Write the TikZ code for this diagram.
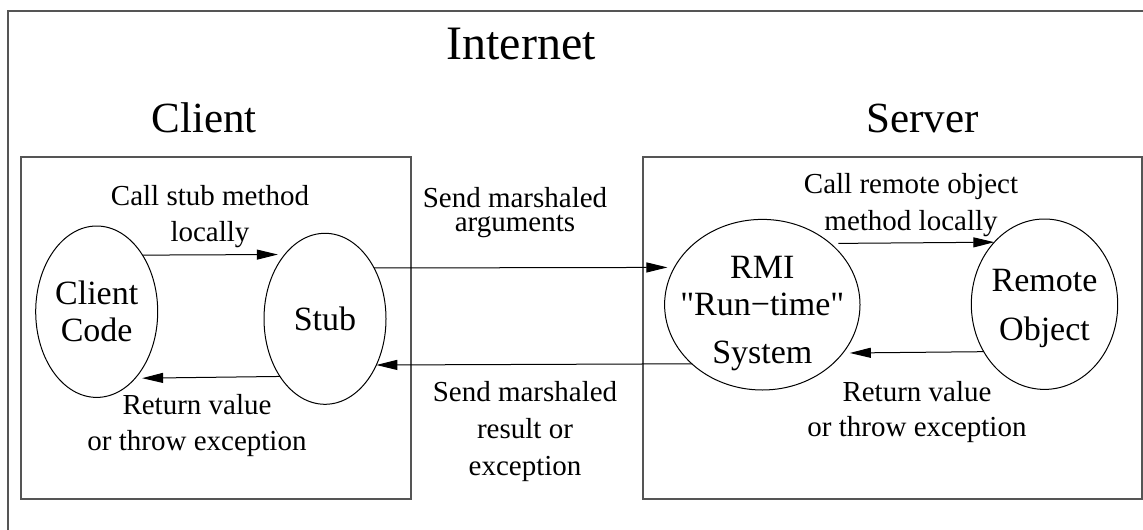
\documentclass[tikz,border=0pt]{standalone}
\usepackage{fontspec}
\setmainfont{Liberation Serif}
\usetikzlibrary{arrows.meta,shapes.geometric}
\definecolor{framegray}{RGB}{85,85,85}
\begin{document}
\begin{tikzpicture}[x=0.5pt,y=-0.5pt,
    obj/.style={draw, ellipse, line width=0.5pt, inner sep=0pt, outer sep=0pt},
    objtext/.style={align=center, font=\fontsize{17}{18.35}\selectfont},
    lbl/.style={align=center, anchor=base, inner sep=0pt, font=\fontsize{14.5}{18}\selectfont},
    title/.style={anchor=base, inner sep=0pt},
    msg/.style={-{Triangle[length=10.5pt,width=5pt]}, line width=0.5pt, shorten >=3.5pt},
    box/.style={draw=framegray, line width=1pt}]
        \useasboundingbox (0,0) rectangle (1143,529);
        \clip (0,0) rectangle (1143,529);
        \draw [framegray, line width=0.75pt] (8,11) rectangle (1180,560);
        \node [title, font=\fontsize{24}{28}\selectfont] (internet) at (521,60) {Internet};
        \node [title, font=\fontsize{21.5}{26}\selectfont] (client) at (204.2,132.3) {Client};
        \node [title, font=\fontsize{21.5}{26}\selectfont] (server) at (922.5,132.3) {Server};
        \draw [box] (20.7,157) rectangle (410.7,499);
        \draw [box] (642.7,157) rectangle (1142,499);
        \node [obj, minimum width=61pt, minimum height=85.7pt] (cc) at (96.7,311.7) {};
        \node [obj, minimum width=61pt, minimum height=85.5pt] (stub) at (325,318.8) {};
        \node [obj, minimum width=97.7pt, minimum height=85.3pt] (rmi) at (762.3,304.7) {};
        \node [obj, minimum width=73.2pt, minimum height=85.2pt] (ro) at (1044.5,304.2) {};
        \node [objtext] (cctext) at (cc) {Client\\Code};
        \node [objtext] (stubtext) at (stub) {Stub};
        \node [objtext] (rmitext) at ([yshift=-4.5pt]rmi) {RMI\\\textquotedbl Run−time\textquotedbl\\[6pt]System};
        \node [objtext] (rotext) at ([yshift=-2pt]ro) {Remote\\[6pt]Object};
        \node [lbl] (callstub) at (210,241.7) {Call stub method\\locally};
        \node [lbl] (retclient) at (197,450) {Return value\\or throw exception};
        \node [lbl, font=\fontsize{14.5}{12.35}\selectfont] (sendargs) at (515,231.7) {Send marshaled\\arguments};
        \node [lbl, font=\fontsize{14.5}{18.35}\selectfont] (sendres) at (525,475) {Send marshaled\\result or\\exception};
        \node [lbl, font=\fontsize{14.5}{18.35}\selectfont] (callremote) at (911,230) {Call remote object\\method locally};
        \node [lbl, font=\fontsize{14.5}{17.5}\selectfont] (retserver) at (917,436.7) {Return value\\or throw exception};
        \draw [msg] (cc.51.1) -- (stub.122.5);
        \draw [msg] (stub.232.7) -- (cc.300.9);
        \draw [msg] (stub.46.3) -- (rmi.157.2);
        \draw [msg, shorten >=0pt] (rmi.220.7) -- (stub.318.4);
        \draw [msg, shorten <=4pt, shorten >=0pt] (rmi.42.7) -- (ro.129.5);
        \draw [msg] (ro.218.9) -- (rmi.329.3);
      \end{tikzpicture}
\end{document}
